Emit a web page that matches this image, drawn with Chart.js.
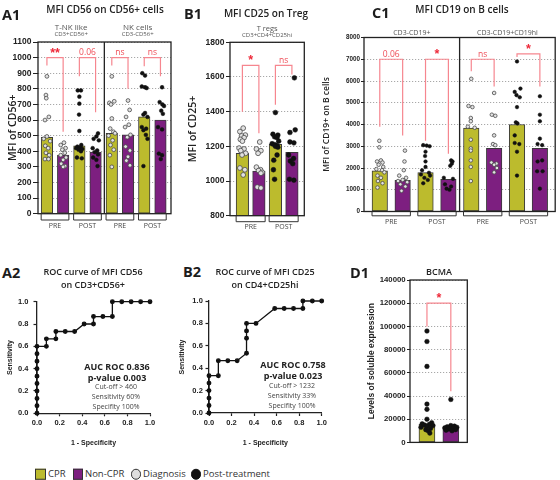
<!DOCTYPE html>
<html><head><meta charset="utf-8">
<script src="https://cdn.jsdelivr.net/npm/chart.js@4.4.1/dist/chart.umd.min.js"></script>
<style>
html,body{margin:0;padding:0;background:#fff;}
#root{position:relative;width:560px;height:480px;overflow:hidden;font-family:"Open Sans",sans-serif;color:#222;}
canvas{position:absolute;}
.t{position:absolute;white-space:nowrap;transform:translate(-50%,-50%);line-height:1;}
.pl{position:absolute;font-weight:700;font-size:14.5px;line-height:1;transform:translateY(-50%);color:#1c1c1c;}
.tt{font-weight:600;font-size:10px;color:#222;}
.rt{font-weight:600;font-size:9px;color:#222;}
.ab{font-weight:700;font-size:9px;color:#222;}
.as{font-weight:400;font-size:7px;color:#444;}
.lg{position:absolute;font-size:9.5px;line-height:1;transform:translateY(-50%);color:#333;white-space:nowrap;}
.sq{position:absolute;width:8.5px;height:8.5px;border:1px solid #333;transform:translateY(-50%);}
.ci{position:absolute;width:8.5px;height:8.5px;border:1px solid #333;border-radius:50%;transform:translateY(-50%);}
</style></head>
<body><div id="root">
<canvas id="cA1" width="180" height="240" style="left:0;top:0"></canvas>
<canvas id="cB1" width="130" height="240" style="left:180px;top:0"></canvas>
<canvas id="cC1" width="250" height="240" style="left:310px;top:0"></canvas>
<canvas id="cA2" width="160" height="160" style="left:0;top:290px"></canvas>
<canvas id="cB2" width="153" height="160" style="left:177px;top:290px"></canvas>
<canvas id="cD1" width="115" height="200" style="left:360px;top:250px"></canvas>

<div class="pl" style="left:2px;top:15px">A1</div>
<div class="pl" style="left:184px;top:13.5px">B1</div>
<div class="pl" style="left:372px;top:13px">C1</div>
<div class="pl" style="left:2px;top:273px">A2</div>
<div class="pl" style="left:183px;top:272px">B2</div>
<div class="pl" style="left:350px;top:273px">D1</div>

<div class="t tt" style="left:105px;top:8.5px">MFI CD56 on CD56+ cells</div>
<div class="t tt" style="left:266px;top:13px">MFI CD25 on Treg</div>
<div class="t tt" style="left:462px;top:8.5px">MFI CD19 on B cells</div>
<div class="t rt" style="left:93px;top:271px">ROC curve of MFI CD56</div>
<div class="t rt" style="left:93px;top:283.5px">on CD3+CD56+</div>
<div class="t rt" style="left:265px;top:271px">ROC curve of MFI CD25</div>
<div class="t rt" style="left:265px;top:283.5px">on CD4+CD25hi</div>
<div class="t rt" style="left:439px;top:271px">BCMA</div>

<div class="t ab" style="left:117px;top:365.5px">AUC ROC 0.836</div>
<div class="t ab" style="left:117px;top:376.5px">p-value 0.003</div>
<div class="t as" style="left:116px;top:386px">Cut-off &gt; 460</div>
<div class="t as" style="left:116px;top:395.5px">Sensitivity 60%</div>
<div class="t as" style="left:116px;top:405.5px">Specifity 100%</div>
<div class="t ab" style="left:293px;top:363.5px">AUC ROC 0.758</div>
<div class="t ab" style="left:293px;top:374.5px">p-value 0.023</div>
<div class="t as" style="left:292px;top:384.5px">Cut-off &gt; 1232</div>
<div class="t as" style="left:292px;top:394.5px">Sensitivity 33%</div>
<div class="t as" style="left:292px;top:404.5px">Specifity 100%</div>

<div class="sq" style="left:35px;top:474px;background:#bcbb2d"></div>
<div class="lg" style="left:48px;top:474px">CPR</div>
<div class="sq" style="left:72.5px;top:474px;background:#7d1f80"></div>
<div class="lg" style="left:85px;top:474px">Non-CPR</div>
<div class="ci" style="left:130.5px;top:474px;background:#dedede"></div>
<div class="lg" style="left:143px;top:474px">Diagnosis</div>
<div class="ci" style="left:190.5px;top:474px;background:#111;border-color:#111"></div>
<div class="lg" style="left:203px;top:474px">Post-treatment</div>
</div>
<script>
const OLIVE = '#bcbb2d', PURPLE = '#7d1f80';

// ---------- A1 : MFI CD56 on CD56+ cells ----------
const a1Panels = ['T-NK like', 'NK cells'];
const a1PanelSub = ['CD3+CD56+', 'CD3-CD56+'];
const a1Group = ['CPR','Non-CPR','CPR','Non-CPR','CPR','Non-CPR','CPR','Non-CPR'];
const a1Stage = ['PRE','PRE','POST','POST','PRE','PRE','POST','POST'];
const a1Bars = [490, 375, 435, 395, 515, 505, 620, 600];
const a1Dots = [
  [880,760,740,620,600,495,480,465,435,420,390,375,350,350],
  [455,440,420,410,390,375,360,345,320,305,300],
  [790,790,750,705,635,530,440,430,425,420,415,410,400,360,355],
  [515,495,480,470,420,405,395,380,360,345,305],
  [880,720,710,700,610,545,525,515,500,470,440,410,375,300],
  [725,665,620,570,555,505,490,430,405,365,340,310],
  [900,885,815,810,805,645,635,620,555,545,535,505,480,305],
  [810,715,700,690,660,640,555,540,385,375,350]
];
const a1Jitter = [
  [0,-0.06,-0.04,0.12,-0.12,0,-0.2,0.2,-0.1,0.08,-0.06,0.14,-0.12,0.1],
  [0.05,-0.15,0.15,-0.05,0.1,-0.15,0.18,0,-0.12,0.12,0],
  [-0.1,0.1,0,0,-0.02,0,0.12,-0.12,0.05,-0.2,0.18,-0.05,0.1,-0.15,0.15],
  [0.15,0.05,-0.12,0.2,-0.18,0.1,-0.05,0.15,-0.15,0.05,0.12],
  [0,0.15,-0.15,-0.05,0,-0.1,0.1,0.2,-0.2,0.05,-0.08,0.12,-0.12,0],
  [0,0.1,-0.12,0.05,-0.18,0.15,-0.05,-0.15,0.12,0,-0.1,0.12],
  [-0.12,0.05,-0.15,0.05,0.15,0.05,-0.05,0.2,-0.15,0.12,-0.05,0.1,0.2,-0.05],
  [0.1,-0.05,0.12,0.22,0.05,0.15,-0.15,0.1,-0.1,0.1,0.02]
];
const a1YTicks = [0,100,200,300,400,500,600,700,800,900,1000,1100];
const a1SigText = ['**','0.06','ns','ns'];
const a1SigTop = [1000,1000,1000,1000];
const a1SigLeft = [950,880,950,945];
const a1SigRight = [525,650,800,880];

// ---------- B1 : MFI CD25 on Treg ----------
const b1Panels = ['T regs'];
const b1PanelSub = ['CD3+CD4+CD25hi'];
const b1Group = ['CPR','Non-CPR','CPR','Non-CPR'];
const b1Stage = ['PRE','PRE','POST','POST'];
const b1Bars = [1160, 1058, 1212, 1165];
const b1Dots = [
  [1305,1285,1265,1260,1250,1240,1230,1190,1185,1175,1160,1150,1075,1065,1035],
  [1225,1185,1175,1160,1080,1065,1060,1050,1045,965,960],
  [1395,1270,1265,1255,1250,1230,1215,1210,1205,1200,1195,1150,1120,1065,1010],
  [1595,1295,1280,1225,1220,1150,1130,1115,1100,1010,1005]
];
const b1Jitter = [
  [0.05,-0.15,0.18,-0.05,0.1,-0.12,0,-0.2,0.1,-0.1,0.2,-0.02,-0.15,0.15,0.05],
  [0.05,-0.15,0.12,-0.05,-0.15,0.1,-0.02,0.2,0.12,-0.1,0.12],
  [0,-0.15,0.15,-0.05,0.1,0.2,-0.2,-0.05,0.08,0,0.15,0.1,-0.1,-0.12,-0.05],
  [0.15,0.2,-0.12,-0.12,0.12,-0.2,0.1,-0.1,0.05,-0.15,0.12]
];
const b1YTicks = [800,1000,1200,1400,1600,1800];
const b1SigText = ['*','ns'];
const b1SigTop = [1667,1667];
const b1SigLeft = [1400,1440];
const b1SigRight = [1275,1615];

// ---------- C1 : MFI CD19 on B cells ----------
const c1Panels = ['CD3-CD19+', 'CD3-CD19+CD19hi'];
const c1Group = ['CPR','Non-CPR','CPR','Non-CPR','CPR','Non-CPR','CPR','Non-CPR'];
const c1Stage = ['PRE','PRE','POST','POST','PRE','PRE','POST','POST'];
const c1Bars = [1870, 1430, 1790, 1480, 3830, 2900, 4000, 2900];
const c1Dots = [
  [3250,2950,2350,2300,2250,2150,2050,1950,1900,1800,1650,1550,1400,1300,1100],
  [2800,2300,1900,1650,1550,1450,1400,1350,1250,1150,950],
  [3050,3030,3000,2750,2550,2300,2050,1900,1780,1700,1650,1550,1450,1300],
  [2350,2300,2200,2100,1550,1500,1250,1150,1050,1000],
  [6100,4850,4800,4300,4150,3900,3850,3300,2900,2800,2350,2050,1400],
  [5450,4450,4400,3500,3100,3050,2250,2200,2150,2000,1800],
  [6900,5650,5500,5350,5250,4800,4100,4050,3500,3150,3100,2750,1650],
  [5300,4450,4150,3350,3100,3050,2350,2300,1850,1850,1050]
];
const c1Jitter = [
  [-0.02,-0.02,0.05,-0.12,0.12,-0.05,0.15,-0.15,0.1,0.2,-0.1,0.05,-0.08,0.12,-0.1],
  [0.1,0.08,0.05,-0.15,0.15,0,-0.2,0.2,-0.1,0.12,-0.05],
  [-0.1,0.05,0.18,0,-0.02,0,0,-0.15,0.15,-0.2,0.2,-0.05,0.1,-0.1],
  [0.12,0.18,0.15,0.08,-0.2,0.2,-0.15,0.12,-0.08,0.05],
  [0,-0.12,0.05,-0.02,-0.02,-0.15,0.15,-0.02,-0.02,-0.02,-0.02,-0.02,-0.02],
  [0,-0.1,0.05,0,-0.05,0.05,-0.12,0.1,0,0.12,0],
  [0,0.15,-0.1,-0.02,0.12,0,-0.05,0.02,-0.1,-0.1,0.1,0,0],
  [0,0,0,0,-0.1,0.1,0.1,-0.1,-0.12,0.12,0]
];
const c1YTicks = [0,1000,2000,3000,4000,5000,6000,7000,8000];
const c1SigText = ['0.06','*','ns','*'];
const c1SigTop = [7000,7000,7000,7250];
const c1SigLeft = [3900,3250,6450,7100];
const c1SigRight = [3500,2650,5750,5750];

// ---------- D1 : BCMA ----------
const d1Group = ['CPR','Non-CPR'];
const d1Stage = ['POST','POST'];
const d1Bars = [15500, 13000];
const d1Dots = [
  [96000,87000,65500,33000,28500,20000,17000,16000,15500,15000,14500,14000,13000,12000,11000,10000,8000],
  [37000,14500,14000,13500,13000,12500,12000,11500,11000,10500,10000]
];
const d1Jitter = [
  [0,0,0,0,0,0,0.2,-0.2,0.1,-0.1,0.25,0,-0.25,0.15,-0.05,0.05,0.12],
  [0,0,0.15,-0.15,0.25,-0.25,0.08,-0.08,0.2,-0.2,0.05]
];
const d1YTicks = [0,20000,40000,60000,80000,100000,120000,140000];
const d1SigText = ['*'];
const d1SigTop = [120000];
const d1SigLeft = [100000];
const d1SigRight = [44000];

// ---------- ROC curves ----------
const rocTicks = [0,0.2,0.4,0.6,0.8,1.0];
const rocA2X = [0,0,0,0,0,0,0,0,0,0,0.083,0.083,0.167,0.167,0.25,0.333,0.417,0.5,0.5,0.583,0.667,0.667,0.75,0.833,0.917,1];
const rocA2Y = [0,0.067,0.133,0.2,0.267,0.333,0.4,0.467,0.533,0.6,0.6,0.667,0.667,0.733,0.733,0.733,0.8,0.8,0.867,0.867,0.867,1,1,1,1,1];
const rocB2X = [0,0,0,0,0,0,0.083,0.083,0.167,0.25,0.333,0.333,0.333,0.333,0.417,0.583,0.667,0.75,0.833,0.833,0.917,1];
const rocB2Y = [0,0.067,0.133,0.2,0.267,0.333,0.333,0.467,0.467,0.467,0.533,0.667,0.733,0.8,0.8,0.933,0.933,0.933,0.933,1,1,1];

function sigStyle(t){
  if (t.indexOf('*') >= 0) return {font:'bold 12.5px "Liberation Sans"', color:'#ee2a3a', off:0};
  return {font:'8.5px "Open Sans"', color:'#ef4d57', off:1.5};
}

function makeDecor(o){
  return {
    id:'decor',
    afterDraw(chart){
      const ctx = chart.ctx, a = chart.chartArea, x = chart.scales.x, y = chart.scales.y;
      ctx.save();
      o.sigText.forEach((t,i)=>{
        const s = sigStyle(t);
        const cx = (x.getPixelForValue(o.sigA[i]) + x.getPixelForValue(o.sigB[i]))/2;
        ctx.font = s.font; ctx.fillStyle = s.color; ctx.textAlign='center'; ctx.textBaseline='alphabetic';
        ctx.fillText(t, cx, y.getPixelForValue(o.sigTop[i]) - 1 - s.off);
      });
      ctx.strokeStyle = '#222'; ctx.lineWidth = 1.3;
      ctx.strokeRect(a.left, a.top, a.right - a.left, a.bottom - a.top);
      (o.dividers||[]).forEach(d=>{
        const px = x.getPixelForValue(d);
        ctx.beginPath(); ctx.moveTo(px, a.top); ctx.lineTo(px, a.bottom); ctx.stroke();
      });
      ctx.textAlign = 'center'; ctx.textBaseline = 'middle'; ctx.fillStyle = '#555';
      (o.headers||[]).forEach(h=>{
        const cx = (x.getPixelForValue(h.from) + x.getPixelForValue(h.to))/2;
        h.lines.forEach(l=>{ ctx.font = l.font; ctx.fillText(l.text, cx, a.top + l.dy); });
      });
      if (o.stageBr){
        ctx.strokeStyle = '#333'; ctx.lineWidth = 1;
        for (let i = 0; i < o.stage.length; i += 2){
          const l = x.getPixelForValue(i+1) - o.barPx/2, r = x.getPixelForValue(i+2) + o.barPx/2;
          const yb = a.bottom + o.stageBr.h;
          ctx.beginPath(); ctx.moveTo(l, a.bottom); ctx.lineTo(l, yb); ctx.lineTo(r, yb); ctx.lineTo(r, a.bottom); ctx.stroke();
          ctx.font = o.stageBr.font; ctx.fillStyle = '#444';
          ctx.fillText(o.stage[i], (l+r)/2, yb + o.stageBr.ty);
        }
      }
      ctx.restore();
    }
  };
}

function dotPlot(id, o){
  const openPts = [], fillPts = [];
  o.dots.forEach((arr,i)=>arr.forEach((v,j)=>{
    const p = {x: i + 1 + o.jitter[i][j], y: v};
    (o.stage[i] === 'PRE' ? openPts : fillPts).push(p);
  }));
  const datasets = [];
  datasets.push({type:'scatter', data:openPts, pointRadius:o.r, pointBackgroundColor:'#e2e2e2', pointBorderColor:'#4a4a4a', pointBorderWidth:0.8, order:1, clip:false});
  datasets.push({type:'scatter', data:fillPts, pointRadius:o.r, pointBackgroundColor:'#111', pointBorderColor:'#111', pointBorderWidth:0.5, order:1, clip:false});
  o.sigText.forEach((t,i)=>{
    datasets.push({type:'line', data:[{x:o.sigA[i],y:o.sigLeft[i]},{x:o.sigA[i],y:o.sigTop[i]},{x:o.sigB[i],y:o.sigTop[i]},{x:o.sigB[i],y:o.sigRight[i]}],
      borderColor:'#f6868f', borderWidth:1.2, pointRadius:0, tension:0, fill:false, order:2});
  });
  datasets.push({type:'bar', data:o.bars.map((v,i)=>({x:i+1, y:v})),
    backgroundColor:o.group.map(g=>g==='CPR'?OLIVE:PURPLE), borderColor:'#3a3a3a', borderWidth:1,
    borderSkipped:false, barThickness:o.barPx, order:3});
  new Chart(document.getElementById(id), {
    type:'bar',
    data:{datasets},
    options:{
      responsive:false, animation:false, events:[],
      layout:{padding:o.pad},
      plugins:{legend:{display:false}, tooltip:{enabled:false}},
      scales:{
        x:{type:'linear', display:false, min:o.xmin, max:o.xmax, offset:false},
        y:{type:'linear', min:o.yTicks[0], max:o.yTicks[o.yTicks.length-1],
          afterBuildTicks:s=>{ s.ticks = o.yTicks.map(v=>({value:v})); },
          afterFit:s=>{ s.width = o.yW; },
          ticks:{font:o.tickFont, color:'#222', padding:o.tickPad, autoSkip:false, callback:v=>String(v)},
          grid:{color:'#a8a8a8', lineWidth:1, tickColor:'#222', tickLength:o.tickLen, tickWidth:1, tickBorderDash:[100,0]},
          border:{display:false, dash:[1.2,1.8]},
          title:{display:true, text:o.yTitle, font:o.titleFont, color:'#222', padding:{top:o.titlePad, bottom:0}}
        }
      }
    },
    plugins:[makeDecor(o)]
  });
}

function sigPairs(n){ const a=[],b=[]; for(let i=0;i<n;i++){a.push(2*i+1); b.push(2*i+2);} return {a,b}; }

let p = sigPairs(4);
dotPlot('cA1', {
  bars:a1Bars, dots:a1Dots, jitter:a1Jitter, group:a1Group, stage:a1Stage, yTicks:a1YTicks,
  sigText:a1SigText, sigTop:a1SigTop, sigLeft:a1SigLeft, sigRight:a1SigRight, sigA:p.a, sigB:p.b,
  xmin:0.45, xmax:8.65, barPx:11.5, r:1.9,
  pad:{top:42, bottom:26.3, left:0, right:9}, yW:38, tickLen:5, tickPad:1.5,
  tickFont:{family:'"Liberation Sans"', size:8.5, weight:'bold'},
  yTitle:'MFI of CD56+', titleFont:{family:'"Open Sans"', size:10.5, weight:'600'}, titlePad:6.7,
  dividers:[4.54],
  headers:[
    {from:0.45, to:4.54, lines:[{text:a1Panels[0], font:'8px "Open Sans"', dy:-14.5},{text:a1PanelSub[0], font:'6px "Open Sans"', dy:-7.3}]},
    {from:4.54, to:8.65, lines:[{text:a1Panels[1], font:'8px "Open Sans"', dy:-14.5},{text:a1PanelSub[1], font:'6px "Open Sans"', dy:-7.3}]}
  ],
  stageBr:{h:6.3, ty:5.5, font:'7px "Open Sans"'}
});

p = sigPairs(2);
dotPlot('cB1', {
  bars:b1Bars, dots:b1Dots, jitter:b1Jitter, group:b1Group, stage:b1Stage, yTicks:b1YTicks,
  sigText:b1SigText, sigTop:b1SigTop, sigLeft:b1SigLeft, sigRight:b1SigRight, sigA:p.a, sigB:p.b,
  xmin:0.25, xmax:4.75, barPx:12.5, r:2.4,
  pad:{top:42.3, bottom:24.3, left:0, right:5.7}, yW:50, tickLen:4, tickPad:1.5,
  tickFont:{family:'"Liberation Sans"', size:8.5, weight:'bold'},
  yTitle:'MFI of CD25+', titleFont:{family:'"Open Sans"', size:10.5, weight:'600'}, titlePad:6.7,
  headers:[
    {from:0.25, to:4.75, lines:[{text:b1Panels[0], font:'7.5px "Open Sans"', dy:-13},{text:b1PanelSub[0], font:'6px "Open Sans"', dy:-6.8}]}
  ],
  stageBr:{h:6, ty:5, font:'7px "Open Sans"'}
});

p = sigPairs(4);
dotPlot('cC1', {
  bars:c1Bars, dots:c1Dots, jitter:c1Jitter, group:c1Group, stage:c1Stage, yTicks:c1YTicks,
  sigText:c1SigText, sigTop:c1SigTop, sigLeft:c1SigLeft, sigRight:c1SigRight, sigA:p.a, sigB:p.b,
  xmin:0.31, xmax:8.67, barPx:15.5, r:1.8,
  pad:{top:37.5, bottom:28.5, left:0, right:1.5}, yW:54, tickLen:3, tickPad:1,
  tickFont:{family:'"Liberation Sans"', size:6.3, weight:'bold'},
  yTitle:'MFI of CD19+ on B cells', titleFont:{family:'"Open Sans"', size:8.5, weight:'600'}, titlePad:11.6,
  dividers:[4.49],
  headers:[
    {from:0.31, to:4.49, lines:[{text:c1Panels[0], font:'7px "Open Sans"', dy:-4.7}]},
    {from:4.49, to:8.67, lines:[{text:c1Panels[1], font:'7px "Open Sans"', dy:-4.7}]}
  ],
  stageBr:{h:4.3, ty:5.7, font:'7px "Open Sans"'}
});

p = sigPairs(1);
dotPlot('cD1', {
  bars:d1Bars, dots:d1Dots, jitter:d1Jitter, group:d1Group, stage:d1Stage, yTicks:d1YTicks,
  sigText:d1SigText, sigTop:d1SigTop, sigLeft:d1SigLeft, sigRight:d1SigRight, sigA:p.a, sigB:p.b,
  xmin:0.29, xmax:2.69, barPx:16, r:2.3,
  pad:{top:30, bottom:7.6, left:0, right:7.7}, yW:50, tickLen:3, tickPad:1.3,
  tickFont:{family:'"Liberation Sans"', size:7.8, weight:'bold'},
  yTitle:'Levels of soluble expression', titleFont:{family:'"Liberation Sans"', size:8.5, weight:'bold'}, titlePad:6.9
});

function rocPlot(id, xs, ys, o){
  const pts = xs.map((v,i)=>({x:v, y:ys[i]}));
  const tickFont = {family:'"Liberation Sans"', size:7.5, weight:'bold'};
  const titleFont = {family:'"Liberation Sans"', size:7, weight:'bold'};
  new Chart(document.getElementById(id), {
    type:'scatter',
    data:{datasets:[{data:pts, showLine:true, borderColor:'#111', borderWidth:1.3, tension:0,
      pointRadius:1.8, pointBackgroundColor:'#111', pointBorderColor:'#111', clip:false}]},
    options:{
      responsive:false, animation:false, events:[],
      layout:{padding:o.pad},
      plugins:{legend:{display:false}, tooltip:{enabled:false}},
      scales:{
        x:{type:'linear', min:0, max:1,
          afterBuildTicks:s=>{ s.ticks = rocTicks.map(v=>({value:v})); },
          afterFit:s=>{ s.height = o.xH; },
          ticks:{font:tickFont, color:'#222', padding:2, maxRotation:0, autoSkip:false, callback:v=>Number(v).toFixed(1)},
          grid:{drawOnChartArea:false, tickColor:'#222', tickLength:3, tickWidth:1.2},
          border:{display:true, color:'#222', width:1.3},
          title:{display:true, text:'1 - Specificity', font:titleFont, color:'#222', padding:{top:0, bottom:2.8}}
        },
        y:{type:'linear', min:0, max:1,
          afterBuildTicks:s=>{ s.ticks = rocTicks.map(v=>({value:v})); },
          afterFit:s=>{ s.width = o.yW; },
          ticks:{font:tickFont, color:'#222', padding:o.yPad, autoSkip:false, callback:v=>Number(v).toFixed(1)},
          grid:{drawOnChartArea:false, tickColor:'#222', tickLength:3.5, tickWidth:1.2},
          border:{display:true, color:'#222', width:1.3},
          title:{display:true, text:'Sensitivity', font:titleFont, color:'#222', padding:{top:o.yTitlePad, bottom:0}}
        }
      }
    }
  });
}

rocPlot('cA2', rocA2X, rocA2Y, {pad:{top:11.7, bottom:0, left:0, right:10}, xH:36.7, yW:37, yPad:5, yTitlePad:5.8});
rocPlot('cB2', rocB2X, rocB2Y, {pad:{top:11, bottom:0, left:0, right:8.3}, xH:37, yW:32, yPad:2.7, yTitlePad:0.5});
</script>
</body></html>
